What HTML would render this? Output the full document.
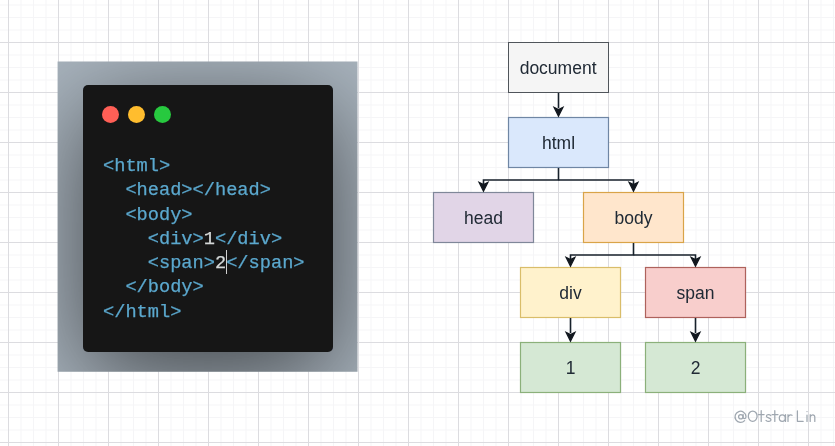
<!DOCTYPE html>
<html>
<head>
<meta charset="utf-8">
<style>
html,body{margin:0;padding:0;background:#fff;}
body{width:835px;height:446px;position:relative;overflow:hidden;font-family:"Liberation Sans",sans-serif;}
#grid{position:absolute;left:0;top:0;}
#panel{position:absolute;left:0;top:0;}
#win{will-change:transform;position:absolute;left:83px;top:85px;width:250px;height:267px;}
.dot{position:absolute;width:17px;height:17px;border-radius:50%;top:21px;}
#code{position:absolute;left:20px;top:69px;margin:0;font-family:"Liberation Mono",monospace;font-size:18.67px;line-height:24.25px;color:#5ba8ce;-webkit-text-stroke:0.25px #5ba8ce;white-space:pre;}
#code i{font-style:normal;color:#d4d8d8;-webkit-text-stroke:0.25px #d4d8d8;}
#cursor{position:absolute;left:143px;top:165px;width:1px;height:24px;background:#d0d0d0;}
#dia{position:absolute;left:0;top:0;will-change:transform;}
#wm{position:absolute;left:0;top:0;}
</style>
</head>
<body>
<svg id="grid" width="835" height="446" fill="none" stroke-width="1">
<path d="M21 0V446M33.5 0V446M46 0V446M71 0V446M83.5 0V446M96 0V446M121 0V446M133.5 0V446M146 0V446M171 0V446M183.5 0V446M196 0V446M221 0V446M233.5 0V446M246 0V446M271 0V446M283.5 0V446M296 0V446M321 0V446M333.5 0V446M346 0V446M371 0V446M383.5 0V446M396 0V446M421 0V446M433.5 0V446M446 0V446M471 0V446M483.5 0V446M496 0V446M521 0V446M533.5 0V446M546 0V446M571 0V446M583.5 0V446M596 0V446M621 0V446M633.5 0V446M646 0V446M671 0V446M683.5 0V446M696 0V446M721 0V446M733.5 0V446M746 0V446M771 0V446M783.5 0V446M796 0V446M821 0V446M833.5 0V446M0 5H835M0 17.5H835M0 30H835M0 55H835M0 67.5H835M0 80H835M0 105H835M0 117.5H835M0 130H835M0 155H835M0 167.5H835M0 180H835M0 205H835M0 217.5H835M0 230H835M0 255H835M0 267.5H835M0 280H835M0 305H835M0 317.5H835M0 330H835M0 355H835M0 367.5H835M0 380H835M0 405H835M0 417.5H835M0 430H835" stroke="#f5f5f7"/>
<path d="M8.5 0V446M58.5 0V446M108.5 0V446M158.5 0V446M208.5 0V446M258.5 0V446M308.5 0V446M358.5 0V446M408.5 0V446M458.5 0V446M508.5 0V446M558.5 0V446M608.5 0V446M658.5 0V446M708.5 0V446M758.5 0V446M808.5 0V446M0 42.5H835M0 92.5H835M0 142.5H835M0 192.5H835M0 242.5H835M0 292.5H835M0 342.5H835M0 392.5H835M0 442.5H835" stroke="#dcdce0"/>
</svg>
<svg id="panel" width="835" height="446">
<defs>
<clipPath id="pc"><rect x="57.6" y="61.5" width="299.9" height="310.3"/></clipPath>
<filter id="sh" x="-100%" y="-100%" width="300%" height="300%"><feDropShadow dx="0" dy="24" stdDeviation="50" flood-color="#000" flood-opacity="0.62"/></filter>
</defs>
<g clip-path="url(#pc)">
<rect x="50" y="55" width="320" height="330" fill="#a9b4be"/>
<rect x="83" y="85" width="250" height="267" rx="5" fill="#151718" filter="url(#sh)"/>
</g>
</svg>
<div id="win">
<div class="dot" style="left:19px;background:#ff5f56"></div>
<div class="dot" style="left:45px;background:#ffbd2e"></div>
<div class="dot" style="left:71px;background:#27c93f"></div>
<pre id="code">&lt;html&gt;
  &lt;head&gt;&lt;/head&gt;
  &lt;body&gt;
    &lt;div&gt;<i>1</i>&lt;/div&gt;
    &lt;span&gt;<i>2</i>&lt;/span&gt;
  &lt;/body&gt;
&lt;/html&gt;</pre>
<div id="cursor"></div>
</div>
<svg id="dia" width="835" height="446" font-family="Liberation Sans, sans-serif" font-size="17.5" text-anchor="middle" fill="#202a35">
<g stroke-width="1.2">
<rect x="508.5" y="42.5" width="100" height="50" fill="#f5f5f5" stroke="#50555b" stroke-width="1"/>
<rect x="508.5" y="117.5" width="100" height="50" fill="#dae8fc" stroke="#6f86a4"/>
<rect x="433.5" y="192.5" width="100" height="50" fill="#e1d5e7" stroke="#7f8799"/>
<rect x="583.5" y="192.5" width="100" height="50" fill="#ffe6cc" stroke="#d9a448"/>
<rect x="520.5" y="267.5" width="100" height="50" fill="#fff2cc" stroke="#d9bd6a"/>
<rect x="645.5" y="267.5" width="100" height="50" fill="#f8cecc" stroke="#ae625c"/>
<rect x="520.5" y="342.5" width="100" height="50" fill="#d5e8d4" stroke="#8bb07a"/>
<rect x="645.5" y="342.5" width="100" height="50" fill="#d5e8d4" stroke="#8bb07a"/>
</g>
<g stroke="#17212b" stroke-width="1.6" fill="none">
<path d="M558.5 93V108"/>
<path d="M558.5 168V180H483.5V184"/>
<path d="M558.5 180H633.5V184"/>
<path d="M633.5 243V255H570.5V259"/>
<path d="M633.5 255H695.5V259"/>
<path d="M570.5 318V333"/>
<path d="M695.5 318V333"/>
</g>
<g fill="#12181f" stroke="#12181f" stroke-width="1.25" stroke-miterlimit="10">
<path id="ah" d="M0 -1.4L-4.4 -10.2L0 -8L4.4 -10.2Z" transform="translate(558.5 117.5)"/>
<path d="M0 -1.4L-4.4 -10.2L0 -8L4.4 -10.2Z" transform="translate(483.5 192.5)"/>
<path d="M0 -1.4L-4.4 -10.2L0 -8L4.4 -10.2Z" transform="translate(633.5 192.5)"/>
<path d="M0 -1.4L-4.4 -10.2L0 -8L4.4 -10.2Z" transform="translate(570.5 267.5)"/>
<path d="M0 -1.4L-4.4 -10.2L0 -8L4.4 -10.2Z" transform="translate(695.5 267.5)"/>
<path d="M0 -1.4L-4.4 -10.2L0 -8L4.4 -10.2Z" transform="translate(570.5 342.5)"/>
<path d="M0 -1.4L-4.4 -10.2L0 -8L4.4 -10.2Z" transform="translate(695.5 342.5)"/>
</g>
<g stroke="none">
<text x="558.1" y="74">document</text>
<text x="558.5" y="149">html</text>
<text x="483.5" y="224">head</text>
<text x="633.5" y="224">body</text>
<text x="570.5" y="299">div</text>
<text x="695.5" y="299">span</text>
<text x="570.5" y="374">1</text>
<text x="695.5" y="374">2</text>
</g>
</svg>
<svg id="wm" width="835" height="446" fill="none" stroke="#9fa7b0" stroke-width="1.25" stroke-linecap="round" stroke-linejoin="round">
<path d="M744.6 420.6A5.5 5.6 0 1 1 746 416.4C746 419.2 743.2 419.4 743.1 417.2V414.4"/>
<ellipse cx="740.8" cy="416.7" rx="2.2" ry="2.2"/>
<ellipse cx="752.7" cy="416.2" rx="4.4" ry="5.2"/>
<path d="M761.2 410.7V421.4M758.4 414.6H764.1"/>
<path d="M770.9 415.6C769.5 414.2 766.4 414.3 766.4 416.2C766.4 418 771 417.7 771 419.7C771 421.8 767.5 421.9 766 420.4"/>
<path d="M774.8 410.7V421.4M772.1 414.6H778"/>
<ellipse cx="782.3" cy="418.1" rx="3" ry="3.3"/>
<path d="M785.5 414.7V421.4"/>
<path d="M788 414.7V421.4M788 417.2C788.6 415.1 790.6 414.3 792 415.3"/>
<path d="M797.4 410.9V421.3H803.2"/>
<path d="M807 415V421.4M807 411.5V411.6"/>
<path d="M810.2 414.7V421.4M810.2 417.2C810.9 414.4 814.8 414 814.8 417.3V421.4"/>
</svg>
</body>
</html>
